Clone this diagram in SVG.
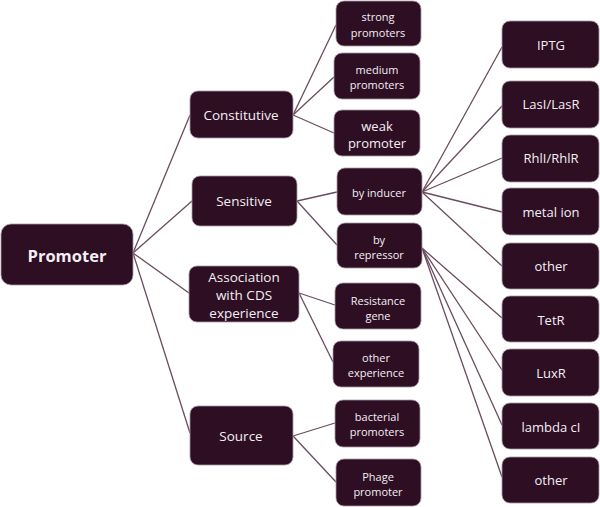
<svg xmlns="http://www.w3.org/2000/svg" width="600" height="507" viewBox="0 0 600 507">
<style>
.b{fill:#2d0e22;stroke:#a89aa4;stroke-width:0.8}
.t{fill:#f4eef4;font-family:"Open Sans","Noto Sans",sans-serif;text-anchor:middle;dominant-baseline:central}
.s{font-size:11px}
.m{font-size:13px}
.l{font-size:13.5px}
.c line{stroke:#6a4c60;stroke-width:1.3}
</style>
<rect width="600" height="507" fill="#ffffff"/>
<g class="c" id="connectors">
<line x1="133" y1="253" x2="190" y2="115"/>
<line x1="133" y1="253" x2="192" y2="201"/>
<line x1="133" y1="253" x2="189" y2="293"/>
<line x1="133" y1="253" x2="190" y2="433"/>
<line x1="293" y1="115" x2="336" y2="25"/>
<line x1="293" y1="115" x2="334" y2="77"/>
<line x1="293" y1="115" x2="334" y2="133"/>
<line x1="297" y1="201" x2="337" y2="192"/>
<line x1="297" y1="201" x2="337" y2="245"/>
<line x1="299" y1="293" x2="335" y2="305"/>
<line x1="299" y1="293" x2="333" y2="362"/>
<line x1="293" y1="436" x2="335" y2="423"/>
<line x1="293" y1="436" x2="336" y2="482"/>
<line x1="422" y1="192" x2="502" y2="47"/>
<line x1="422" y1="192" x2="502" y2="106"/>
<line x1="422" y1="192" x2="502" y2="158"/>
<line x1="422" y1="192" x2="502" y2="212"/>
<line x1="422" y1="192" x2="502" y2="266"/>
<line x1="422" y1="248" x2="502" y2="318"/>
<line x1="422" y1="248" x2="502" y2="370"/>
<line x1="422" y1="248" x2="502" y2="425"/>
<line x1="422" y1="248" x2="502" y2="477"/>
</g>
<g id="promoter"><rect class="b" x="1" y="224" width="132" height="61" rx="10"/><text class="t" x="67" y="255" font-size="16.5" font-weight="bold">Promoter</text></g>
<g id="constitutive"><rect class="b" x="190" y="91" width="103" height="47" rx="8"/><text class="t l" x="241" y="115">Constitutive</text></g>
<g id="sensitive"><rect class="b" x="192" y="176" width="105" height="50" rx="8"/><text class="t l" x="244" y="201">Sensitive</text></g>
<g id="association"><rect class="b" x="189" y="266" width="110" height="56" rx="8"/><text class="t l" x="244" y="277">Association</text><text class="t l" x="244" y="295">with CDS</text><text class="t l" x="244" y="313">experience</text></g>
<g id="source"><rect class="b" x="190" y="406" width="103" height="59" rx="8"/><text class="t l" x="241" y="436">Source</text></g>
<g id="strong"><rect class="b" x="336" y="1" width="85" height="45" rx="8"/><text class="t s" x="378" y="16">strong</text><text class="t s" x="378" y="32">promoters</text></g>
<g id="medium"><rect class="b" x="334" y="53" width="86" height="46" rx="8"/><text class="t s" x="377" y="69">medium</text><text class="t s" x="377" y="84">promoters</text></g>
<g id="weak"><rect class="b" x="334" y="110" width="86" height="46" rx="8"/><text class="t m" x="377" y="126">weak</text><text class="t m" x="377" y="143">promoter</text></g>
<g id="inducer"><rect class="b" x="337" y="168" width="85" height="47" rx="8"/><text class="t s" x="379" y="192">by inducer</text></g>
<g id="repressor"><rect class="b" x="337" y="223" width="85" height="45" rx="8"/><text class="t s" x="379" y="239">by</text><text class="t s" x="379" y="254">repressor</text></g>
<g id="resistance"><rect class="b" x="335" y="283" width="86" height="46" rx="8"/><text class="t s" x="378" y="300">Resistance</text><text class="t s" x="378" y="315">gene</text></g>
<g id="otherexp"><rect class="b" x="333" y="341" width="86" height="46" rx="8"/><text class="t s" x="376" y="357">other</text><text class="t s" x="376" y="372">experience</text></g>
<g id="bacterial"><rect class="b" x="335" y="400" width="85" height="47" rx="8"/><text class="t s" x="377" y="416">bacterial</text><text class="t s" x="377" y="431">promoters</text></g>
<g id="phage"><rect class="b" x="336" y="459" width="85" height="47" rx="8"/><text class="t s" x="378" y="476">Phage</text><text class="t s" x="378" y="491">promoter</text></g>
<g id="iptg"><rect class="b" x="502" y="21" width="97" height="47" rx="8"/><text class="t m" x="551" y="45">IPTG</text></g>
<g id="lasi"><rect class="b" x="502" y="81" width="97" height="47" rx="8"/><text class="t m" x="551" y="104">LasI/LasR</text></g>
<g id="rhli"><rect class="b" x="502" y="135" width="97" height="47" rx="8"/><text class="t m" x="551" y="158">RhlI/RhlR</text></g>
<g id="metal"><rect class="b" x="502" y="188" width="97" height="47" rx="8"/><text class="t m" x="551" y="212">metal ion</text></g>
<g id="other1"><rect class="b" x="502" y="243" width="97" height="46" rx="8"/><text class="t m" x="551" y="266">other</text></g>
<g id="tetr"><rect class="b" x="502" y="296" width="97" height="46" rx="8"/><text class="t m" x="551" y="320">TetR</text></g>
<g id="luxr"><rect class="b" x="502" y="349" width="97" height="47" rx="8"/><text class="t m" x="551" y="373">LuxR</text></g>
<g id="lambda"><rect class="b" x="502" y="403" width="97" height="46" rx="8"/><text class="t m" x="551" y="427">lambda cI</text></g>
<g id="other2"><rect class="b" x="502" y="457" width="97" height="46" rx="8"/><text class="t m" x="551" y="480">other</text></g>
</svg>
